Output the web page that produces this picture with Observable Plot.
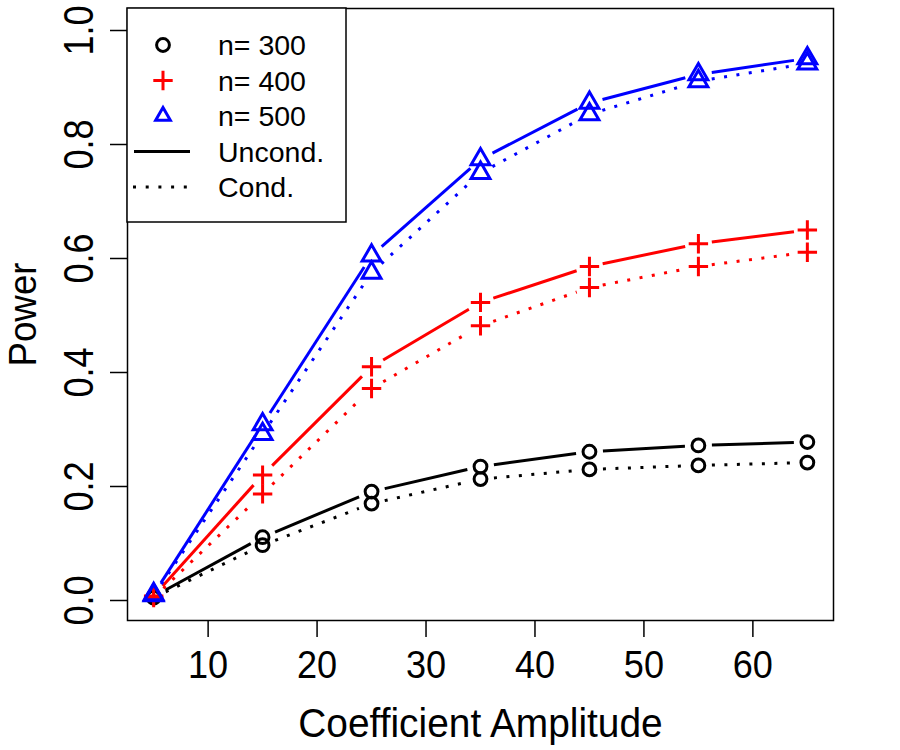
<!DOCTYPE html>
<html><head><meta charset="utf-8">
<script src="https://cdn.jsdelivr.net/npm/d3@7"></script>
<script src="https://cdn.jsdelivr.net/npm/@observablehq/plot@0.6"></script>
<style>
body{margin:0;background:#fff}
svg text{font-family:"Liberation Sans",Arial,sans-serif}
</style>
</head><body><div id="chart"></div>
<script>
const amplitude = [5, 15, 25, 35, 45, 55, 65];
const p300Uncond = [0.007, 0.111, 0.191, 0.235, 0.261, 0.272, 0.278];
const p300Cond   = [0.005, 0.097, 0.170, 0.213, 0.230, 0.237, 0.242];
const p400Uncond = [0.008, 0.220, 0.410, 0.523, 0.586, 0.626, 0.650];
const p400Cond   = [0.005, 0.187, 0.372, 0.482, 0.549, 0.586, 0.611];
const p500Uncond = [0.011, 0.309, 0.605, 0.774, 0.873, 0.923, 0.951];
const p500Cond   = [0.009, 0.292, 0.575, 0.750, 0.853, 0.911, 0.942];
const seriesNames = ["n= 300", "n= 400", "n= 500"];
const seriesColors = ["#000000", "#ff0000", "#0000ff"];
const seriesSymbols = ["circle", "plus", "triangle"];
const typeNames = ["Uncond.", "Cond."];
const xTicks = [10, 20, 30, 40, 50, 60];
const yTicks = [0, 0.2, 0.4, 0.6, 0.8, 1.0];
const xTitle = "Coefficient Amplitude";
const yTitle = "Power";

const series = [
  {n: seriesNames[0], type: typeNames[0], values: p300Uncond},
  {n: seriesNames[0], type: typeNames[1], values: p300Cond},
  {n: seriesNames[1], type: typeNames[0], values: p400Uncond},
  {n: seriesNames[1], type: typeNames[1], values: p400Cond},
  {n: seriesNames[2], type: typeNames[0], values: p500Uncond},
  {n: seriesNames[2], type: typeNames[1], values: p500Cond}
];
const points = series.flatMap(s => s.values.map((v, i) => ({x: amplitude[i], y: v, n: s.n, type: s.type})));
const segments = series.flatMap(s => s.values.slice(1).map((v, i) => ({
  x1: amplitude[i], y1: s.values[i], x2: amplitude[i + 1], y2: v, n: s.n, type: s.type
})));

const symR = {"circle": 6.4, "plus": 6.3, "triangle": 7};
const DASH = "3 9.5";

const marks = [
  Plot.frame({stroke: "black", strokeWidth: 1.5}),
  Plot.arrow(segments.filter(d => d.type === "Uncond."), {
    x1: "x1", y1: "y1", x2: "x2", y2: "y2", stroke: "n", strokeWidth: 3,
    headLength: 0, insetStart: 13.5, insetEnd: 13.5, strokeLinecap: "butt"
  }),
  Plot.arrow(segments.filter(d => d.type === "Cond."), {
    x1: "x1", y1: "y1", x2: "x2", y2: "y2", stroke: "n", strokeWidth: 3,
    headLength: 0, insetStart: 13.5, insetEnd: 13.5, strokeLinecap: "butt", strokeDasharray: DASH
  })
];
seriesNames.forEach((nm, k) => {
  marks.push(Plot.dot(points.filter(d => d.n === nm), {
    x: "x", y: "y", stroke: "n", symbol: "n", r: symR[seriesSymbols[k]], strokeWidth: 3
  }));
});
marks.push(
  Plot.axisX({ticks: xTicks, tickSize: 17, tickFormat: () => "", label: null, strokeWidth: 1.5}),
  Plot.axisY({ticks: yTicks, tickSize: 17, tickFormat: () => "", label: null, strokeWidth: 1.5}),
  // order of text marks matters for horizontal scaling below
  Plot.text(yTicks, {y: d => d, text: d => d.toFixed(1), frameAnchor: "left", dx: -47.5, rotate: -90,
    fontSize: 42, lineAnchor: "middle", textAnchor: "middle", fill: "black"}),
  Plot.text(xTicks, {x: d => d, text: d => String(d), frameAnchor: "bottom", dy: 45,
    fontSize: 38, lineAnchor: "middle", textAnchor: "middle", fill: "black"}),
  Plot.text([xTitle], {text: d => d, frameAnchor: "bottom", dy: 104, fontSize: 40.5,
    lineAnchor: "middle", textAnchor: "middle", fill: "black"}),
  Plot.text([yTitle], {text: d => d, frameAnchor: "left", dx: -104, rotate: -90, fontSize: 39.5,
    lineAnchor: "middle", textAnchor: "middle", fill: "black"})
);

const chart = Plot.plot({
  width: 900, height: 750,
  marginLeft: 127, marginRight: 67, marginTop: 8, marginBottom: 130,
  style: {fontFamily: '"Liberation Sans",Arial,sans-serif', background: "#fff", color: "black"},
  x: {domain: [2.6, 67.4]},
  y: {domain: [-0.0351, 1.0386]},
  color: {domain: seriesNames, range: seriesColors},
  symbol: {domain: seriesNames, range: seriesSymbols},
  marks
});
document.getElementById("chart").appendChild(chart);

// slight horizontal compression of the text to match the reference glyph widths
const textScales = [0.86, 0.95, 0.96, 0.93];
d3.select(chart).selectAll('g[aria-label="text"]').each(function(_, gi) {
  const sx = textScales[gi] ?? 1;
  d3.select(this).selectAll("text").each(function() {
    const t = d3.select(this);
    const tr = t.attr("transform") || "";
    t.attr("transform", `${tr} scale(${sx},1)`);
  });
});

// legend inside plot area
const svg = d3.select(chart);
const lg = svg.append("g").attr("class", "legend");
lg.append("rect").attr("x", 127).attr("y", 8).attr("width", 219).attr("height", 214)
  .attr("fill", "white").attr("stroke", "black").attr("stroke-width", 1.5);
const rowY = [0, 1, 2, 3, 4].map(i => 45 + 35.5 * i);
const d3sym = {"circle": d3.symbolCircle, "plus": d3.symbolPlus, "triangle": d3.symbolTriangle2};
seriesNames.forEach((nm, k) => {
  const r = symR[seriesSymbols[k]];
  lg.append("path").attr("d", d3.symbol(d3sym[seriesSymbols[k]], Math.PI * r * r)())
    .attr("transform", `translate(163,${rowY[k]})`)
    .attr("fill", "none").attr("stroke", seriesColors[k]).attr("stroke-width", 3);
});
lg.append("line").attr("x1", 134).attr("x2", 190).attr("y1", rowY[3]).attr("y2", rowY[3])
  .attr("stroke", "black").attr("stroke-width", 3);
lg.append("line").attr("x1", 133).attr("x2", 196).attr("y1", rowY[4]).attr("y2", rowY[4])
  .attr("stroke", "black").attr("stroke-width", 3).attr("stroke-dasharray", "3 9.7");
[...seriesNames, ...typeNames].forEach((t, i) => {
  lg.append("text").attr("x", 218).attr("y", rowY[i]).attr("dy", "0.36em")
    .attr("text-anchor", "start").attr("font-size", 28.5).attr("fill", "black").text(t);
});
</script></body></html>
